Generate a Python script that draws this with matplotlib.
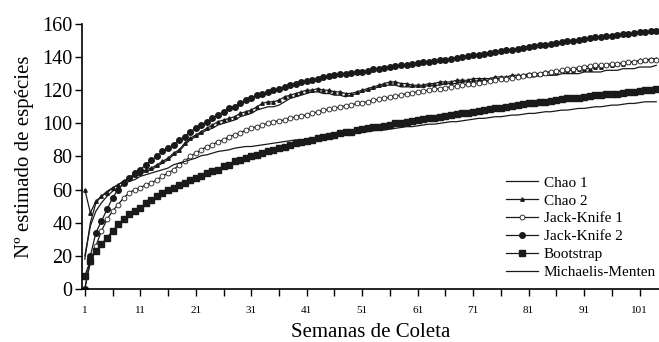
import matplotlib
matplotlib.use("Agg")
import matplotlib.pyplot as plt
import numpy as np

plt.rcParams["font.family"] = ["Liberation Serif", "DejaVu Serif"]

# Semanas de coleta (1..104)
weeks = list(range(1, 105))

chao1 = [18, 40, 52, 56, 59, 61, 63, 65, 67, 68,
         69, 71, 72, 74, 76, 78, 81, 83, 87, 90,
         92, 94, 96, 97, 99, 100, 101, 102, 104, 105,
         106, 108, 109, 110, 110, 111, 113, 115, 116, 117,
         118, 119, 119, 118, 118, 117, 117, 116, 117, 118,
         119, 120, 121, 122, 123, 123, 123, 122, 122, 122,
         122, 122, 123, 123, 123, 124, 124, 124, 125, 125,
         125, 126, 126, 126, 127, 127, 127, 127, 128, 128,
         128, 128, 129, 129, 129, 129, 130, 130, 130, 130,
         131, 131, 131, 131, 132, 132, 132, 133, 133, 133,
         134, 134, 134, 135]

chao2 = [60, 46, 53, 56, 58, 61, 63, 65, 67, 69,
         70, 72, 73, 75, 77, 79, 82, 84, 88, 91,
         93, 95, 97, 99, 101, 102, 103, 104, 106, 107,
         108, 110, 112, 113, 113, 114, 116, 117, 118, 119,
         120, 120, 121, 120, 120, 119, 119, 118, 118, 119,
         120, 121, 122, 123, 124, 125, 125, 124, 124, 123,
         123, 123, 124, 124, 125, 125, 125, 126, 126, 126,
         127, 127, 127, 127, 128, 128, 128, 129, 129, 129,
         130, 130, 130, 131, 131, 131, 132, 132, 132, 133,
         133, 133, 134, 134, 135, 135, 136, 136, 137, 137,
         138, 138, 139, 139]

jack1 = [0, 16, 26, 35, 42, 47, 51, 55, 58, 60,
         61, 63, 64, 66, 68, 70, 72, 75, 77, 80,
         82, 84, 86, 87, 89, 90, 92, 93, 94, 96,
         97, 98, 99, 100, 101, 101.5, 102, 103, 104, 104.5,
         105, 106, 107, 108, 108.5, 109, 110, 110.5, 111, 112,
         112.5, 113, 114, 114.5, 115, 116, 116.5, 117, 118, 118.5,
         119, 119.5, 120, 120.5, 121, 121.5, 122, 122.5, 123, 123.5,
         124, 124.5, 125, 125.5, 126, 126.5, 127, 127.5, 128, 128.5,
         129, 129.5, 130, 130.5, 131, 131.5, 132, 132.5, 133, 133.5,
         134, 134.5, 135, 135, 135.5, 136, 136, 136.5, 137, 137,
         137.5, 138, 138, 138.5]

jack2 = [0, 20, 34, 41, 48, 55, 60, 64, 67, 70,
         72, 75, 78, 80, 83, 85, 87, 90, 92, 95,
         97, 99, 101, 103, 105, 107, 109, 110, 112, 114,
         115, 117, 118, 119, 120, 121, 122, 123, 124, 125,
         125.5, 126, 127, 128, 128.5, 129, 129.5, 130, 130.5, 131,
         131, 131.5, 132.5, 133, 133.5, 134, 134.5, 135, 135.5, 136,
         136.5, 137, 137, 137.5, 138, 138.5, 139, 139.5, 140, 140.5,
         141, 141.5, 142, 142.5, 143, 143.5, 144, 144.5, 145, 145.5,
         146, 146.5, 147, 147.5, 148, 148.5, 149, 149.5, 150, 150.5,
         151, 151.5, 152, 152, 152.5, 153, 153.5, 154, 154, 154.5,
         155, 155, 155.5, 156]

bootstrap = [8, 17, 23, 27, 31, 35, 39, 42, 45, 47,
             49, 52, 54, 56, 58, 60, 61, 63, 64, 66,
             67, 68, 70, 71, 72, 74, 75, 77, 78, 79,
             80, 81, 82, 83, 84, 85, 86, 87, 88, 89,
             89.5, 90, 91, 92, 92.5, 93, 94, 94.5, 95, 96,
             96.5, 97, 97.5, 98, 98.5, 99, 100, 100.5, 101, 101.5,
             102, 102.5, 103, 103.5, 104, 104.5, 105, 105.5, 106, 106.5,
             107, 107.5, 108, 108.5, 109, 109.5, 110, 110.5, 111, 111.5,
             112, 112.5, 113, 113, 113.5, 114, 114.5, 115, 115, 115.5,
             116, 116.5, 117, 117, 117.5, 118, 118, 118.5, 119, 119,
             119.5, 120, 120, 120.5]

menten = [20, 38, 47, 52, 56, 59, 61, 63, 65, 66,
          68, 69, 70, 71, 72, 73, 75, 76, 77, 78,
          79, 80.5, 81, 82, 83, 83.5, 84, 85, 85.5, 86,
          86, 86.5, 87, 87.5, 88, 88.5, 89, 89.5, 90, 90,
          90.5, 91, 91.5, 92, 92, 92.5, 93, 93.5, 94, 94,
          94.5, 95, 95.5, 96, 96, 96.5, 97, 97.5, 98, 98,
          98.5, 99, 99.5, 99.5, 100, 100.5, 101, 101, 101.5, 102,
          102.5, 103, 103, 103.5, 104, 104, 104.5, 105, 105, 105.5,
          106, 106, 106.5, 107, 107, 107.5, 108, 108, 108.5, 109,
          109, 109.5, 110, 110, 110.5, 111, 111, 111.5, 112, 112,
          112.5, 113, 113, 113]

xticks = list(range(1, 105, 5))
xlabels = [str(w) if (w - 1) % 10 == 0 else "" for w in xticks]
yticks = list(range(0, 161, 20))

fig = plt.figure(figsize=(6.59, 3.42), dpi=100)
ax = fig.add_axes([0.1245, 0.155, 0.8755, 0.775])

k = "#1a1a1a"
ax.plot(weeks, chao1, color=k, lw=0.9, label="Chao 1")
ax.plot(weeks, chao2, color=k, lw=0.9, marker="^", ms=2.5, label="Chao 2")
ax.plot(weeks, jack1, color=k, lw=0.9, marker="o", ms=3.5, mfc="white",
        mew=0.6, label="Jack-Knife 1")
ax.plot(weeks, jack2, color=k, lw=0.9, marker="o", ms=4, label="Jack-Knife 2")
ax.plot(weeks, bootstrap, color=k, lw=0.9, marker="s", ms=5, label="Bootstrap")
ax.plot(weeks, menten, color=k, lw=0.9, label="Michaelis-Menten")

ax.set_xlim(0.5, 104.5)
ax.set_ylim(0, 160)
ax.set_xticks(xticks)
ax.set_xticklabels(xlabels, fontsize=8)
ax.set_yticks(yticks)
ax.tick_params(axis="y", labelsize=14.5, length=5, width=1, pad=2)
ax.tick_params(axis="x", length=5, width=1, pad=7)
ax.spines["top"].set_visible(False)
ax.spines["right"].set_visible(False)
ax.spines["left"].set_linewidth(1.2)
ax.spines["bottom"].set_linewidth(1.2)

ax.set_xlabel("Semanas de Coleta", fontsize=15, labelpad=6)
ax.set_ylabel("Nº estimado de espécies", fontsize=15, labelpad=6)

fig.legend(loc="upper left", bbox_to_anchor=(0.768, 0.485), frameon=False,
           fontsize=11, numpoints=1, handlelength=2.1, handletextpad=0.35,
           labelspacing=0.27, borderpad=0, borderaxespad=0)

fig.savefig("out.png", dpi=100)
